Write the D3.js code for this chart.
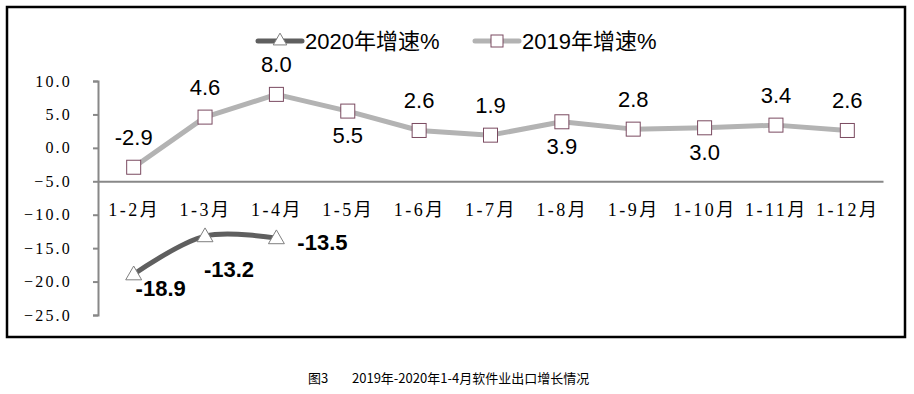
<!DOCTYPE html>
<html><head><meta charset="utf-8">
<script src="https://cdn.jsdelivr.net/npm/d3@7"></script>
<style>
html,body{margin:0;padding:0;background:#fff;}
svg{display:block;}
</style></head>
<body>
<svg id="chart" width="914" height="394"></svg>
<script>
// ---- data ----
const categories = ["1-2月","1-3月","1-4月","1-5月","1-6月","1-7月","1-8月","1-9月","1-10月","1-11月","1-12月"];
const growth2019 = [-2.9, 4.6, 8.0, 5.5, 2.6, 1.9, 3.9, 2.8, 3.0, 3.4, 2.6];
const growth2020 = [-18.9, -13.2, -13.5];
const seriesNames = ["2020年增速%", "2019年增速%"];
const yTicks = [10, 5, 0, -5, -10, -15, -20, -25];
const captionLabel = "图3";
const captionText = "2019年-2020年1-4月软件业出口增长情况";

// ---- layout (not data) ----
const labelSide2019 = ["t","t","t","b","t","t","b","t","b","t","t"];
const labelOffset2020 = [[27,14],[24,33],[46,4]];

const svg = d3.select("#chart");
const axisColor = "#888888";
const c2019 = "#b3b3b3", c2020 = "#5f5f5f";

svg.append("rect").attr("x",7).attr("y",7).attr("width",898).attr("height",330)
  .attr("fill","none").attr("stroke","#000").attr("stroke-width",2.5);

const y = d3.scaleLinear().domain([-25,10]).range([315,81]);
const x = d3.scalePoint().domain(categories).range([98,883]).padding(0.5);

// y axis
const yAxis = svg.append("g").attr("transform","translate(98,0)")
  .call(d3.axisLeft(y).tickValues(yTicks).tickSize(5).tickPadding(21).tickFormat(d3.format(".1f")));
yAxis.select(".domain").attr("stroke",axisColor).attr("stroke-width",2);
yAxis.selectAll(".tick line").attr("stroke",axisColor).attr("stroke-width",2);
yAxis.selectAll(".tick text").attr("fill","#000").attr("font-family","'Liberation Serif','DejaVu Serif',serif")
  .attr("font-size",16).attr("letter-spacing",2.2);

// x axis at -5
const xAxis = svg.append("g").attr("transform",`translate(0,${y(-5)})`)
  .call(d3.axisBottom(x).tickSize(0).tickPadding(22).tickSizeOuter(0));
xAxis.select(".domain").attr("stroke",axisColor).attr("stroke-width",2);
xAxis.selectAll(".tick text").attr("fill","#000").attr("font-family","'Liberation Serif','Noto Sans CJK SC',serif")
  .attr("font-size",18).attr("letter-spacing",2.5);

// 2019 line
const pts19 = categories.map((c,i)=>({c, v: growth2019[i], i}));
svg.append("path").datum(pts19)
  .attr("d", d3.line().x(d=>x(d.c)).y(d=>y(d.v)))
  .attr("fill","none").attr("stroke",c2019).attr("stroke-width",5).attr("stroke-linejoin","round");

// 2020 line
const pts20 = growth2020.map((v,i)=>({c: categories[i], v, i}));
svg.append("path").datum(pts20)
  .attr("d", d3.line().x(d=>x(d.c)).y(d=>y(d.v)).curve(d3.curveCatmullRom.alpha(0.5)))
  .attr("fill","none").attr("stroke",c2020).attr("stroke-width",5).attr("stroke-linecap","round");

// markers
const sq = 14;
svg.selectAll("rect.m19").data(pts19).join("rect").attr("class","m19")
  .attr("x",d=>x(d.c)-sq/2).attr("y",d=>y(d.v)-sq/2).attr("width",sq).attr("height",sq)
  .attr("fill","#fff").attr("stroke","#7a4a60").attr("stroke-width",1);

const tri = d3.symbol().type(d3.symbolTriangle).size(110);
svg.selectAll("path.m20").data(pts20).join("path").attr("class","m20")
  .attr("transform",d=>`translate(${x(d.c)},${y(d.v)+1})`).attr("d",tri())
  .attr("fill","#fff").attr("stroke","#7f7f7f").attr("stroke-width",1);

// labels 2019
svg.selectAll("text.l19").data(pts19).join("text").attr("class","l19")
  .attr("x",d=>x(d.c)).attr("y",d=>y(d.v) + (labelSide2019[d.i]==="t" ? -30 : 24) + 8)
  .attr("text-anchor","middle").attr("font-family","'Liberation Sans',Arial,sans-serif").attr("font-size",22)
  .attr("fill","#000").text(d=>d.v.toFixed(1));

// labels 2020
svg.selectAll("text.l20").data(pts20).join("text").attr("class","l20")
  .attr("x",d=>x(d.c)+labelOffset2020[d.i][0]).attr("y",d=>y(d.v)+labelOffset2020[d.i][1]+8)
  .attr("text-anchor","middle").attr("font-family","'Liberation Sans',Arial,sans-serif").attr("font-size",22)
  .attr("font-weight","bold").attr("fill","#000").text(d=>d.v.toFixed(1));

// legend
const legend = [
  {name: seriesNames[0], color: c2020, x0: 258, type: "tri"},
  {name: seriesNames[1], color: c2019, x0: 475, type: "sq"}
];
const ly = 41;
legend.forEach(l=>{
  const g = svg.append("g");
  g.append("line").attr("x1",l.x0).attr("x2",l.x0+44).attr("y1",ly).attr("y2",ly)
    .attr("stroke",l.color).attr("stroke-width",5).attr("stroke-linecap","round");
  if(l.type==="tri"){
    g.append("path").attr("transform",`translate(${l.x0+22},${ly})`).attr("d",d3.symbol().type(d3.symbolTriangle).size(80)())
      .attr("fill","#fff").attr("stroke","#7f7f7f").attr("stroke-width",1);
  } else {
    g.append("rect").attr("x",l.x0+22-6).attr("y",ly-6).attr("width",12).attr("height",12)
      .attr("fill","#fff").attr("stroke","#7a4a60").attr("stroke-width",1);
  }
  g.append("text").attr("x",l.x0+47).attr("y",ly+8).attr("font-family","'Liberation Sans','Noto Sans CJK SC',sans-serif")
    .attr("font-size",22).attr("fill","#000").text(l.name);
});

// caption
svg.append("text").attr("x",308).attr("y",383).attr("font-family","'Noto Sans CJK SC',sans-serif")
  .attr("font-size",13).attr("fill","#000").text(captionLabel);
svg.append("text").attr("x",352).attr("y",383).attr("font-family","'Noto Sans CJK SC',sans-serif")
  .attr("font-size",13).attr("fill","#000").text(captionText);
</script>
</body></html>
